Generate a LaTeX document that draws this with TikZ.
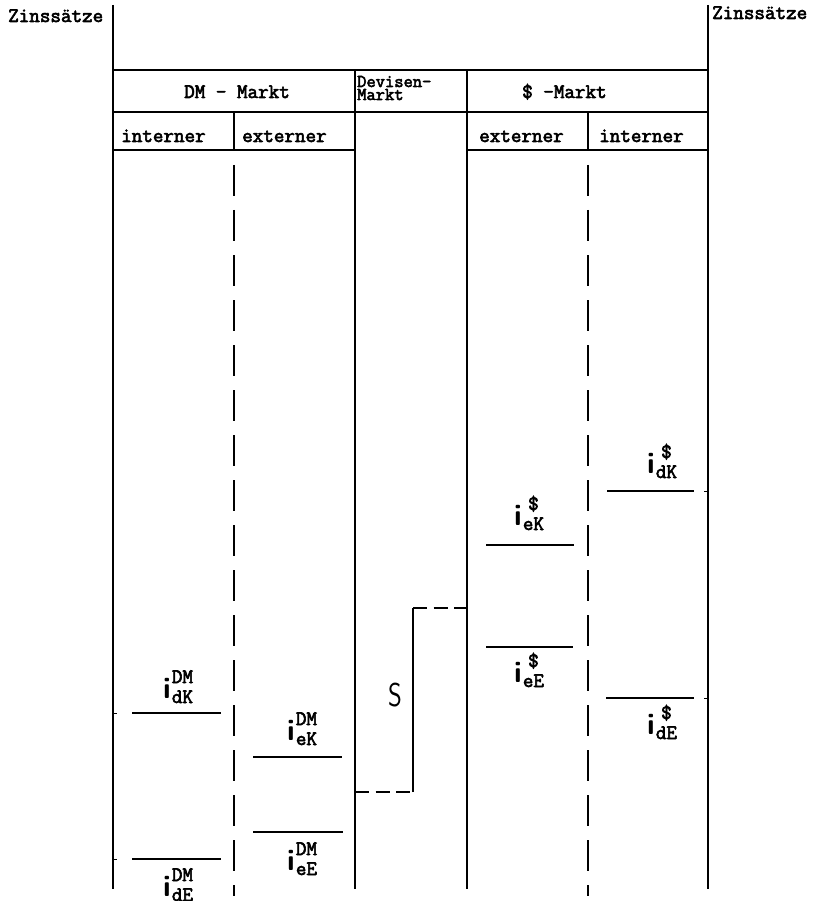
\documentclass[tikz,border=0pt]{standalone}
\usepackage{fontspec}
\setmonofont{Latin Modern Mono}[AutoFakeBold=3]
\usetikzlibrary{calc}

% Zinssatz: i mit hochgestelltem Markt und tiefgestellter Art
\newcommand{\zins}[2]{%
  {\sffamily\bfseries\fontsize{30}{30}\selectfont i}\kern1pt
  \setbox0=\hbox{#2}%
  \rlap{\raisebox{15pt}{\hbox to \wd0{\hss#1\hss}}}%
  \raisebox{-5pt}{\box0}}

\begin{document}
\begin{tikzpicture}[x=1pt,y=-1pt,
    achse/.style={line width=1.3pt},
    gestrichelt/.style={line width=1.3pt, dash pattern=on 31pt off 14pt},
    niveau/.style={line width=1.6pt},
    kurz/.style={line width=1.3pt, dash pattern=on 14pt off 6.5pt},
    schrift/.style={font=\ttfamily\bfseries\fontsize{20.5}{20.5}\selectfont, inner sep=0pt, anchor=base west},
    klein/.style={schrift, font=\ttfamily\bfseries\fontsize{18}{18}\selectfont},
    satz/.style={font=\ttfamily\bfseries\fontsize{20.5}{20.5}\selectfont, inner sep=0pt, anchor=base west}]

      \useasboundingbox (0,0) rectangle (816,901);

      % Achsen und Spalten
      \draw [achse] (113,5) -- (113,889);
      \draw [achse] (708,5) -- (708,889);
      \draw [achse] (355,70) -- (355,889);
      \draw [achse] (467,70) -- (467,889);

      \draw [achse] (113,70) -- (708,70);
      \draw [achse] (113,112) -- (708,112);
      \draw [achse] (113,150) -- (355,150);
      \draw [achse] (467,150) -- (708,150);
      \draw [achse] (234,112) -- (234,150);
      \draw [achse] (588,112) -- (588,150);

      \draw [gestrichelt] (234,165) -- (234,896);
      \draw [gestrichelt] (588,165) -- (588,896);

      % Kopfzeilen
      \node [schrift] (zl) at (8,22) {Zinssätze};
      \node [schrift] (zr) at (712,19) {Zinssätze};
      \node [schrift] (dm) at (184,98) {DM - Markt};
      \node [klein] (dev1) at (357,87) {Devisen-};
      \node [klein] (dev2) at (357,100) {Markt};
      \node [schrift] (usd) at (522,98) {\$ -Markt};
      \node [schrift] (dmi) at (121,142) {interner};
      \node [schrift] (dme) at (242,142) {externer};
      \node [schrift] (usde) at (479,142) {externer};
      \node [schrift] (usdi) at (599,142) {interner};

      % Zinsniveaus DM
      \draw [niveau] (132,713) -- (221,713);
      \draw [niveau] (132,859) -- (221,859);
      \draw [niveau] (253,757) -- (342,757);
      \draw [niveau] (253,832) -- (343,832);
      \draw [line width=0.8pt] (113,713) -- (117,713);
      \draw [line width=0.8pt] (113,859) -- (117,859);

      \node [satz] (idkdm) at (163,698) {\zins{DM}{dK}};
      \node [satz] (idedm) at (163,896) {\zins{DM}{dE}};
      \node [satz] (iekdm) at (287,740) {\zins{DM}{eK}};
      \node [satz] (ieedm) at (287,870) {\zins{DM}{eE}};

      % Zinsniveaus Dollar
      \draw [niveau] (607,491) -- (694,491);
      \draw [niveau] (606,698) -- (694,698);
      \draw [niveau] (486,545) -- (574,545);
      \draw [niveau] (486,647) -- (573,647);
      \draw [line width=0.8pt] (704,491) -- (708,491);
      \draw [line width=0.8pt] (704,698) -- (708,698);

      \node [satz] (idkusd) at (647,473) {\zins{\$}{dK}};
      \node [satz] (ideusd) at (647,734) {\zins{\$}{dE}};
      \node [satz] (iekusd) at (514,525) {\zins{\$}{eK}};
      \node [satz] (ieeusd) at (514,682) {\zins{\$}{eE}};

      % Devisenmarkt
      \draw [kurz] (355,792) -- (413,792);
      \draw [achse] (413,792) -- (413,608);
      \draw [kurz] (413,608) -- (467,608);
      \node [font=\sffamily\fontsize{33}{33}\selectfont, inner sep=0pt] (s) at (395,695) {\scalebox{0.8}[1]{S}};

\end{tikzpicture}
\end{document}
